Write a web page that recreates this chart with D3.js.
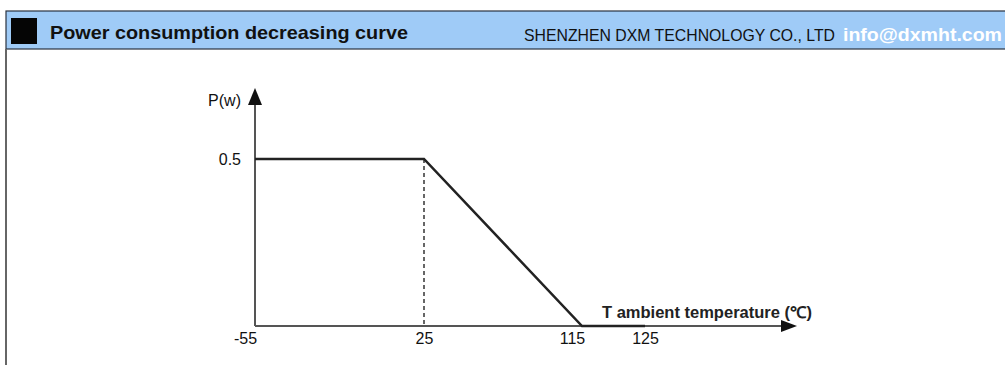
<!DOCTYPE html>
<html>
<head>
<meta charset="utf-8">
<script src="https://cdn.jsdelivr.net/npm/d3@7"></script>
<style>
  html, body { margin: 0; padding: 0; background: #fff; }
  svg { display: block; }
</style>
</head>
<body>
<svg id="chart" width="1005" height="365"></svg>
<script>
// Derating curve: power vs ambient temperature
const tempPoints = [-55, 25, 115, 125];
const powerPoints = [0.5, 0.5, 0, 0];
const xTickLabels = ["-55", "25", "115", "125"];
const yTickValues = [0.5];
const yTickLabels = ["0.5"];

const svg = d3.select("#chart");
const font = "Liberation Sans, Arial, sans-serif";

// Header band
svg.append("rect")
  .attr("x", 6).attr("y", 11).attr("width", 1010).attr("height", 38)
  .attr("fill", "#9fcbf7").attr("stroke", "#2a3340").attr("stroke-width", 1.2);
svg.append("rect")
  .attr("x", 11).attr("y", 18).attr("width", 26).attr("height", 26)
  .attr("fill", "#050505");
svg.append("text")
  .attr("x", 50).attr("y", 39)
  .attr("font-family", font).attr("font-size", 19).attr("font-weight", "bold")
  .attr("fill", "#111")
  .attr("textLength", 358).attr("lengthAdjust", "spacingAndGlyphs")
  .text("Power consumption decreasing curve");
svg.append("text")
  .attr("x", 524).attr("y", 41)
  .attr("font-family", font).attr("font-size", 17)
  .attr("fill", "#111")
  .attr("textLength", 311).attr("lengthAdjust", "spacingAndGlyphs")
  .text("SHENZHEN DXM TECHNOLOGY CO., LTD");
svg.append("text")
  .attr("x", 843).attr("y", 41)
  .attr("font-family", font).attr("font-size", 18).attr("font-weight", "bold")
  .attr("fill", "#ffffff")
  .attr("textLength", 159).attr("lengthAdjust", "spacingAndGlyphs")
  .text("info@dxmht.com");

// Panel left border
svg.append("line")
  .attr("x1", 6).attr("x2", 6).attr("y1", 49).attr("y2", 365)
  .attr("stroke", "#666").attr("stroke-width", 2);

// Scales (schematic, piecewise x spacing)
const x = d3.scaleLinear().domain(tempPoints).range([255, 424, 582, 645]);
const y = d3.scaleLinear().domain([0, 0.5]).range([326, 159]);

const axisColor = "#555";

// Y axis with arrow
svg.append("line")
  .attr("x1", x(-55)).attr("x2", x(-55)).attr("y1", y(0)).attr("y2", 100)
  .attr("stroke", axisColor).attr("stroke-width", 2);
svg.append("path")
  .attr("d", `M${x(-55)},88 L${x(-55) - 7},105 L${x(-55) + 7},105 Z`)
  .attr("fill", "#111");

// X axis with arrow
svg.append("line")
  .attr("x1", x(-55)).attr("x2", 785).attr("y1", y(0)).attr("y2", y(0))
  .attr("stroke", axisColor).attr("stroke-width", 2);
svg.append("path")
  .attr("d", `M797,${y(0)} L781,${y(0) - 6} L781,${y(0) + 6} Z`)
  .attr("fill", "#111");

// Tick labels via axis generators
const xAxis = d3.axisBottom(x)
  .tickValues(tempPoints)
  .tickFormat((d, i) => xTickLabels[i])
  .tickSize(0).tickPadding(7);
const gx = svg.append("g").attr("transform", `translate(0,${y(0)})`).call(xAxis);
gx.select(".domain").remove();
gx.selectAll("text")
  .attr("font-family", font).attr("font-size", 16).attr("fill", "#111");
gx.selectAll(".tick").filter((d) => d === -55).select("text").attr("dx", -10);
gx.selectAll(".tick").filter((d) => d === 115).select("text").attr("dx", -10);

const yAxis = d3.axisLeft(y)
  .tickValues(yTickValues)
  .tickFormat((d, i) => yTickLabels[i])
  .tickSize(0).tickPadding(14);
const gy = svg.append("g").attr("transform", `translate(${x(-55)},0)`).call(yAxis);
gy.select(".domain").remove();
gy.selectAll("text")
  .attr("font-family", font).attr("font-size", 16).attr("fill", "#111");

// Axis titles
svg.append("text")
  .attr("x", 241).attr("y", 106).attr("text-anchor", "end")
  .attr("font-family", font).attr("font-size", 16).attr("fill", "#111")
  .text("P(w)");
svg.append("text")
  .attr("x", 602).attr("y", 318)
  .attr("font-family", font).attr("font-size", 16).attr("font-weight", "bold")
  .attr("fill", "#222")
  .attr("textLength", 210).attr("lengthAdjust", "spacingAndGlyphs")
  .text("T ambient temperature (\u2103)");

// Dashed guide at the knee
svg.append("line")
  .attr("x1", x(25)).attr("x2", x(25)).attr("y1", y(0.5)).attr("y2", y(0))
  .attr("stroke", "#666").attr("stroke-width", 2).attr("stroke-dasharray", "4,3");

// Derating curve
const line = d3.line().x((d, i) => x(tempPoints[i])).y((d) => y(d));
svg.append("path")
  .datum(powerPoints)
  .attr("d", line)
  .attr("fill", "none").attr("stroke", "#222").attr("stroke-width", 2.5);
</script>
</body>
</html>
